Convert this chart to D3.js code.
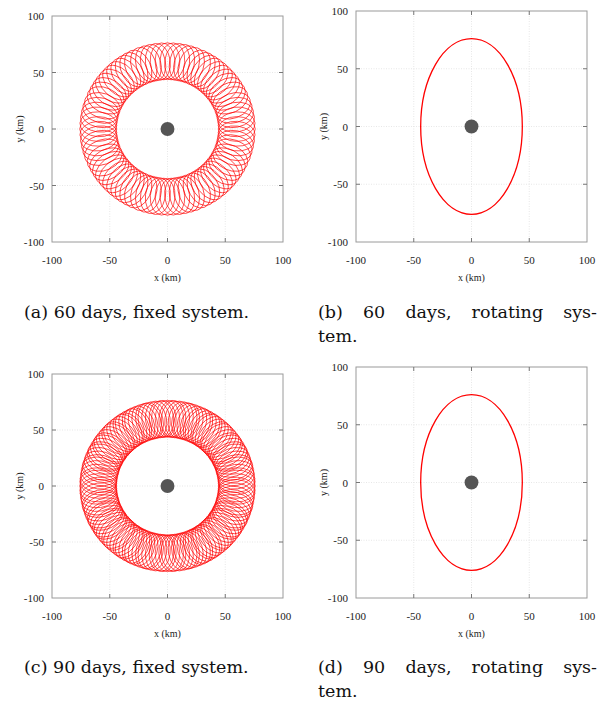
<!DOCTYPE html>
<html lang="en">
<head>
<meta charset="UTF-8">
<title>Relative orbit, fixed and rotating system</title>
<script src="https://d3js.org/d3.v7.min.js"></script>
<style>
    body { margin: 0; background: #fff; }
    .tick-label { font-family: "Liberation Serif", serif; font-size: 11px; fill: #222; }
    .axis-title { font-family: "Liberation Serif", serif; font-size: 10px; fill: #222; }
    .caption { font-family: "DejaVu Serif", serif; font-size: 17.5px; fill: #111; }
</style>
</head>
<body>
<svg id="chart" width="603" height="702"></svg>
<script>
    // ticks on both axes (km)
    const axisTicks = [-100, -50, 0, 50, 100];

    // rotating system: ellipse semi-axes (km), x and y
    const ellipseSemiAxes = [44, 76];

    // fixed system: loops around a ring of radius loopRing (km)
    const loopRing = 60;
    const loopSemiAxes = [16, 11];   // radial, tangential
    // loop positions (deg) along the ring
    const loopAngles60 = [0, 4, 8, 12, 16, 20, 25, 29, 33, 37, 41,
        45, 49, 53, 57, 61, 65, 70, 74, 78, 82, 86,
        90, 94, 98, 102, 106, 110, 115, 119, 123, 127, 131,
        135, 139, 143, 147, 151, 155, 160, 164, 168, 172, 176,
        180, 184, 188, 192, 196, 200, 205, 209, 213, 217, 221,
        225, 229, 233, 237, 241, 245, 250, 254, 258, 262, 266,
        270, 274, 278, 282, 286, 290, 295, 299, 303, 307, 311,
        315, 319, 323, 327, 331, 335, 340, 344, 348, 352, 356];
    const loopAngles90 = [0, 3, 5, 8, 11, 14, 16, 19, 22, 25, 27,
        30, 33, 35, 38, 41, 44, 46, 49, 52, 55, 57,
        60, 63, 65, 68, 71, 74, 76, 79, 82, 85, 87,
        90, 93, 95, 98, 101, 104, 106, 109, 112, 115, 117,
        120, 123, 125, 128, 131, 134, 136, 139, 142, 145, 147,
        150, 153, 155, 158, 161, 164, 166, 169, 172, 175, 177,
        180, 183, 185, 188, 191, 194, 196, 199, 202, 205, 207,
        210, 213, 215, 218, 221, 224, 226, 229, 232, 235, 237,
        240, 243, 245, 248, 251, 254, 256, 259, 262, 265, 267,
        270, 273, 275, 278, 281, 284, 286, 289, 292, 295, 297,
        300, 303, 305, 308, 311, 314, 316, 319, 322, 325, 327,
        330, 333, 335, 338, 341, 344, 346, 349, 352, 355, 357];

    // central body radius (km)
    const bodyRadius = 6;

    const captions = [
        { lines: ["(a) 60 days, fixed system."], x: 24, y: 318, justify: false },
        { lines: ["(b) 60 days, rotating sys-", "tem."], x: 318, y: 318, justify: true },
        { lines: ["(c) 90 days, fixed system."], x: 24, y: 673, justify: false },
        { lines: ["(d) 90 days, rotating sys-", "tem."], x: 318, y: 673, justify: true }
    ];

    const panels = [
        { kind: "fixed", loops: loopAngles60, left: 52, right: 283, top: 16, bottom: 242 },
        { kind: "rotating", left: 356, right: 587, top: 11, bottom: 242 },
        { kind: "fixed", loops: loopAngles90, left: 52, right: 283, top: 374, bottom: 598 },
        { kind: "rotating", left: 356, right: 587, top: 367, bottom: 598 }
    ];

    const svg = d3.select("#chart");

    function drawPanel(p) {
        const x = d3.scaleLinear().domain([-100, 100]).range([p.left, p.right]);
        const y = d3.scaleLinear().domain([-100, 100]).range([p.bottom, p.top]);
        const g = svg.append("g");

        // dotted grid
        const inner = axisTicks.slice(1, -1);
        g.selectAll(".gx").data(inner).enter().append("line")
            .attr("x1", d => x(d)).attr("x2", d => x(d))
            .attr("y1", p.top).attr("y2", p.bottom)
            .attr("stroke", "#dcdcdc").attr("stroke-width", 0.7).attr("stroke-dasharray", "1,1.5");
        g.selectAll(".gy").data(inner).enter().append("line")
            .attr("y1", d => y(d)).attr("y2", d => y(d))
            .attr("x1", p.left).attr("x2", p.right)
            .attr("stroke", "#dcdcdc").attr("stroke-width", 0.7).attr("stroke-dasharray", "1,1.5");

        if (p.kind === "fixed") {
            const rx = x(loopSemiAxes[0]) - x(0);
            const ry = y(0) - y(loopSemiAxes[1]);
            g.selectAll(".loop").data(p.loops).enter().append("ellipse")
                .attr("cx", 0).attr("cy", 0)
                .attr("rx", rx).attr("ry", ry)
                .attr("transform", d => {
                    const a = d * Math.PI / 180;
                    return "translate(" + x(loopRing * Math.cos(a)) + "," + y(loopRing * Math.sin(a)) + ") rotate(" + (-d) + ")";
                })
                .attr("fill", "none").attr("stroke", "#ff0000").attr("stroke-width", 0.65);
        } else {
            g.append("ellipse")
                .attr("cx", x(0)).attr("cy", y(0))
                .attr("rx", x(ellipseSemiAxes[0]) - x(0))
                .attr("ry", y(0) - y(ellipseSemiAxes[1]))
                .attr("fill", "none").attr("stroke", "#ff0000").attr("stroke-width", 1.3);
        }

        // central body
        g.append("circle")
            .attr("cx", x(0)).attr("cy", y(0))
            .attr("r", x(bodyRadius) - x(0))
            .attr("fill", "#555");

        // frame
        g.append("rect")
            .attr("x", p.left).attr("y", p.top)
            .attr("width", p.right - p.left).attr("height", p.bottom - p.top)
            .attr("fill", "none").attr("stroke", "#9a9a9a").attr("stroke-width", 1);

        // inward ticks, all four sides
        const tk = 4;
        inner.forEach(d => {
            [[x(d), p.bottom, x(d), p.bottom - tk], [x(d), p.top, x(d), p.top + tk],
             [p.left, y(d), p.left + tk, y(d)], [p.right, y(d), p.right - tk, y(d)]].forEach(s => {
                g.append("line").attr("x1", s[0]).attr("y1", s[1]).attr("x2", s[2]).attr("y2", s[3])
                    .attr("stroke", "#777").attr("stroke-width", 1);
            });
        });

        // tick labels
        g.selectAll(".xl").data(axisTicks).enter().append("text")
            .attr("class", "tick-label")
            .attr("x", d => x(d)).attr("y", p.bottom + 22)
            .attr("text-anchor", "middle").text(d => d);
        g.selectAll(".yl").data(axisTicks).enter().append("text")
            .attr("class", "tick-label")
            .attr("x", p.left - 8).attr("y", d => y(d) + 4)
            .attr("text-anchor", "end").text(d => d);

        // axis titles
        g.append("text").attr("class", "axis-title")
            .attr("x", x(0)).attr("y", p.bottom + 39)
            .attr("text-anchor", "middle").text("x (km)");
        g.append("text").attr("class", "axis-title")
            .attr("transform", "translate(" + (p.left - 29) + "," + y(0) + ") rotate(-90)")
            .attr("text-anchor", "middle").text("y (km)");
    }

    panels.forEach(drawPanel);

    // captions; first line of (b) and (d) is justified to the column width
    const colWidth = 279;
    captions.forEach(c => {
        c.lines.forEach((line, i) => {
            const by = c.y + i * 24;
            if (c.justify && i === 0) {
                const words = line.split(" ");
                const nodes = words.map(w => svg.append("text").attr("class", "caption").attr("y", by).text(w));
                const widths = nodes.map(n => n.node().getComputedTextLength());
                const gap = (colWidth - d3.sum(widths)) / (words.length - 1);
                let cx = c.x;
                nodes.forEach((n, k) => { n.attr("x", cx); cx += widths[k] + gap; });
            } else {
                svg.append("text").attr("class", "caption").attr("x", c.x).attr("y", by).text(line);
            }
        });
    });
</script>
</body>
</html>
